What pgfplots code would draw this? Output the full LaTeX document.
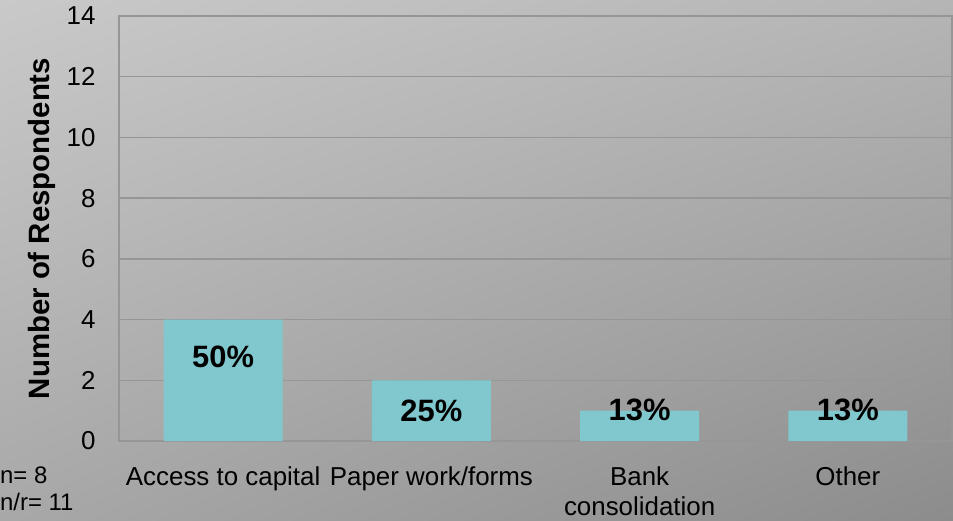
\documentclass[border=0pt]{standalone}
\usepackage{fontspec}
\setmainfont{Liberation Sans}
\usepackage{pgfplots}
\pgfplotsset{compat=1.18}
\usetikzlibrary{shadings}
\definecolor{bgUL}{RGB}{201,201,201}
\definecolor{bgUR}{RGB}{181,181,181}
\definecolor{bgLL}{RGB}{168,168,168}
\definecolor{bgLR}{RGB}{140,140,140}
\definecolor{barc}{RGB}{128,200,206}
\definecolor{gridc}{RGB}{150,150,150}
\begin{document}
\begin{tikzpicture}
\useasboundingbox (0,0) rectangle (953bp,521bp);
\shade[upper left=bgUL, upper right=bgUR, lower left=bgLL, lower right=bgLR] (0,0) rectangle (953bp,521bp);
\begin{axis}[
  at={(119bp,80bp)}, anchor=south west,
  width=833bp, height=425bp, scale only axis,
  xmin=-0.5, xmax=3.5, ymin=0, ymax=14,
  ytick={0,2,...,14},
  xtick={0,1,2,3},
  xticklabels={Access to capital, Paper work/forms, {Bank\\consolidation}, Other},
  /pgf/number format/assume math mode=true,
  tick style={draw=none},
  ymajorgrids,
  grid style={draw=gridc, line width=1.3pt},
  axis line style={draw=gridc, line width=1.3pt},
  yticklabel style={font=\fontsize{26}{30}\selectfont, xshift=-20bp},
  xticklabel style={font=\fontsize{26}{30}\selectfont, align=center, yshift=-22bp},
  ylabel={Number of Respondents},
  every axis y label/.style={at={(axis description cs:-0.092,0.5)}, rotate=90, anchor=center, font=\bfseries\fontsize{29.5}{30}\selectfont},
  clip=false,
]
\addplot[ybar, bar width=0.571, fill=barc, draw=none] coordinates {(0,4) (1,2) (2,1) (3,1)};
\addplot[draw=none, mark=none, nodes near coords, point meta=explicit symbolic,
  nodes near coords style={anchor=center, inner sep=0pt, font=\bfseries\fontsize{31}{31}\selectfont}]
  coordinates {(0,2.77) [50\%] (1,0.99) [25\%] (2,1.02) [13\%] (3,1.02) [13\%]};
\end{axis}
\node[anchor=west, inner sep=0pt, font=\fontsize{24}{27}\selectfont] at (0bp,46bp) {n= 8};
\node[anchor=west, inner sep=0pt, font=\fontsize{24}{27}\selectfont] at (0bp,19bp) {n/r= 11};
\end{tikzpicture}
\end{document}
